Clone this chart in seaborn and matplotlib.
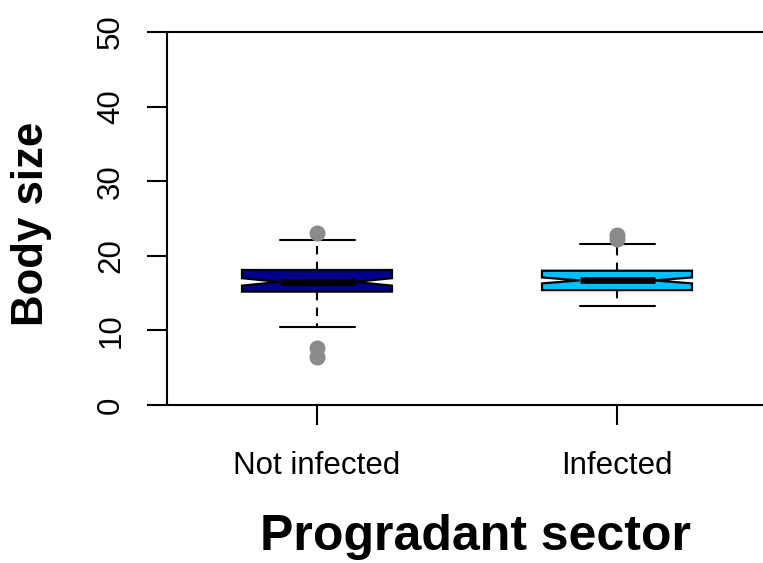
import matplotlib
matplotlib.use("Agg")
import matplotlib.pyplot as plt
import seaborn as sns

# ---- data ----
groups = ["Not infected", "Infected"]
whisker_low = [10.4, 13.3]
q1 = [15.2, 15.4]
median = [16.5, 16.7]
q3 = [18.1, 18.0]
whisker_high = [22.1, 21.6]
notch_low = [16.0, 16.3]
notch_high = [17.0, 17.1]
outliers = [[23.0, 7.6, 6.4], [22.8, 22.2]]
fill_colors = ["#00008B", "#00BFFF"]
y_ticks = [0, 10, 20, 30, 40, 50]

sns.set_style("white")
plt.rcParams["font.family"] = ["Liberation Sans", "DejaVu Sans"]

fig = plt.figure(figsize=(7.63, 5.63), dpi=100)
ax = fig.add_axes([167 / 763, 158 / 563, 600 / 763, 373 / 563])

stats = []
for i, g in enumerate(groups):
    stats.append(dict(label=g, whislo=whisker_low[i], q1=q1[i], med=median[i],
                      q3=q3[i], whishi=whisker_high[i], cilo=notch_low[i],
                      cihi=notch_high[i], fliers=outliers[i]))

bp = ax.bxp(stats, positions=range(len(groups)), widths=0.5, shownotches=True,
            patch_artist=True, manage_ticks=False,
            boxprops=dict(edgecolor="black", linewidth=1.6),
            medianprops=dict(color="black", linewidth=4.8, solid_capstyle="butt"),
            whiskerprops=dict(color="black", linewidth=1.5, linestyle=(0, (4, 3.5))),
            capprops=dict(color="black", linewidth=1.5),
            flierprops=dict(marker="o", markerfacecolor="#8a8a8a",
                            markeredgecolor="#8a8a8a", markersize=10.5))
for patch, c in zip(bp["boxes"], fill_colors):
    patch.set_facecolor(c)

ax.set_xlim(-0.5, 1.5)
ax.set_ylim(0, 50)
ax.set_yticks(y_ticks)
ax.set_yticklabels([str(t) for t in y_ticks], rotation=90, va="center")
ax.set_xticks(range(len(groups)))
ax.set_xticklabels(groups)
ax.tick_params(axis="both", direction="out", length=14.4, width=1.5,
               labelsize=22.5, color="black", labelcolor="black")
ax.tick_params(axis="x", bottom=True, pad=19)
ax.tick_params(axis="y", left=True, pad=15)
for side in ["left", "bottom", "top", "right"]:
    ax.spines[side].set_visible(True)
    ax.spines[side].set_color("black")
    ax.spines[side].set_linewidth(1.5)

fig.text(476 / 763, 1 - 537 / 563, "Progradant sector", ha="center", va="center",
         fontsize=36, fontweight="bold", color="black")
fig.text(32 / 763, 1 - 224 / 563, "Body size", ha="center", va="center",
         rotation=90, fontsize=31.5, fontweight="bold", color="black")

fig.savefig("out.png", dpi=100)
